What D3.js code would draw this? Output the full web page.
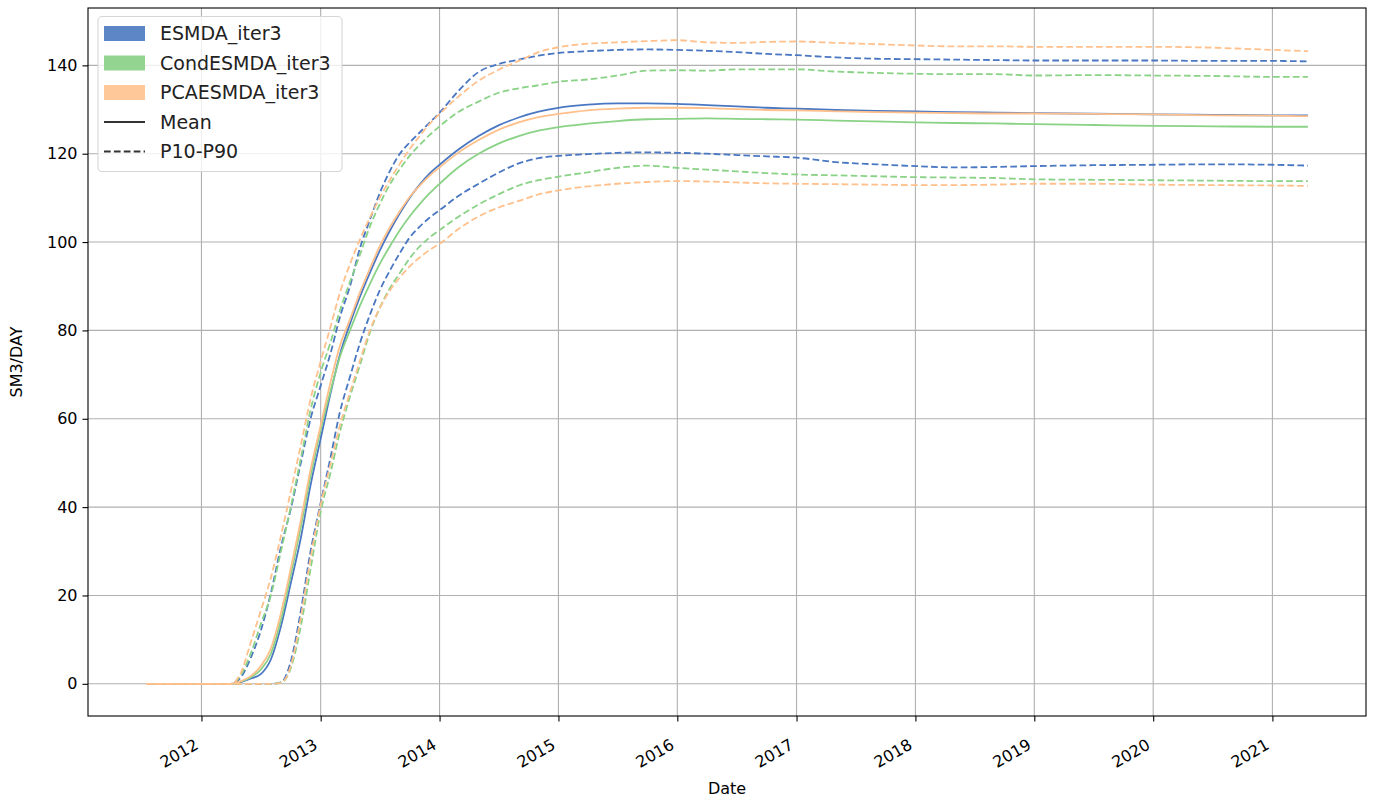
<!DOCTYPE html>
<html>
<head>
<meta charset="utf-8">
<script src="https://cdn.jsdelivr.net/npm/d3@7"></script>
<style>
  html, body { margin: 0; padding: 0; background: #ffffff; }
  svg { display: block; font-family: "DejaVu Sans", sans-serif; }
</style>
</head>
<body>
<svg id="chart" width="1374" height="803"></svg>
<script>
// Report dates (shared by every series)
const dates = [
  "2011-07-15", "2012-01-01",
  "2012-04-01", "2012-05-01", "2012-06-01", "2012-07-01", "2012-08-01", "2012-09-01", "2012-10-01", "2012-11-01", "2012-12-01",
  "2013-01-01", "2013-02-01", "2013-03-01", "2013-04-01", "2013-05-01", "2013-06-01", "2013-07-01", "2013-08-01", "2013-09-01", "2013-10-01", "2013-11-01", "2013-12-01",
  "2014-01-01", "2014-03-01", "2014-05-01", "2014-07-01", "2014-09-01", "2014-11-01",
  "2015-01-01", "2015-04-01", "2015-07-01", "2015-10-01",
  "2016-01-01", "2016-04-01", "2016-07-01", "2016-10-01",
  "2017-01-01", "2017-05-01", "2017-09-01",
  "2018-01-01", "2018-05-01", "2018-09-01",
  "2019-01-01", "2019-07-01",
  "2020-01-01", "2020-07-01",
  "2021-01-01", "2021-04-20"
];

// ESMDA_iter3
const esmdaMean = [0, 0, 0, 0.4, 1.2, 2.2, 5.5, 13, 22.7, 33, 45,
  55.5, 66, 74.5, 81.5, 87.5, 93, 98, 102.5, 106.5, 110, 113, 115.5,
  117.5, 121.0, 124.0, 126.4, 128.2, 129.5, 130.4, 131.1, 131.4, 131.4,
  131.3, 131, 130.7, 130.4, 130.2, 129.9, 129.7, 129.6, 129.4, 129.3,
  129.2, 129.05, 128.9, 128.8, 128.7, 128.7];
const esmdaP10 = [0, 0, 0, 0, 0, 0, 0, 0.3, 5, 16.5, 30,
  41, 51.5, 61.5, 69.5, 77, 83.5, 89, 93.5, 97.5, 101, 103.5, 105.5,
  107.2, 110.5, 113.2, 115.7, 117.8, 119.0, 119.5, 119.9, 120.2, 120.3,
  120.2, 120, 119.7, 119.4, 119.1, 118.1, 117.6, 117.2, 116.9, 117.0,
  117.2, 117.4, 117.5, 117.6, 117.5, 117.3];
const esmdaP90 = [0, 0, 0, 1.5, 6, 12, 20.5, 31, 39.5, 50, 60,
  67.5, 75, 83, 90, 98.5, 105, 111, 116, 120, 122.5, 124.8, 127,
  129.3, 134.3, 138.5, 140.3, 141.3, 142.2, 142.8, 143.2, 143.5, 143.6,
  143.5, 143.3, 143, 142.6, 142.3, 141.8, 141.5, 141.4, 141.3, 141.2,
  141.1, 141.1, 141.1, 141.0, 141.0, 140.9];

// CondESMDA_iter3
const condMean = [0, 0, 0, 0.5, 1.5, 3.2, 6.8, 14.5, 24.5, 35.5, 47,
  57.5, 66.5, 74, 80, 85.5, 90.5, 95, 99, 102.7, 105.8, 108.6, 111,
  113.2, 117, 120, 122.3, 124, 125.2, 126.0, 126.8, 127.4, 127.8,
  127.9, 128.0, 127.9, 127.8, 127.7, 127.5, 127.3, 127.1, 126.95, 126.85,
  126.7, 126.5, 126.3, 126.2, 126.1, 126.1];
const condP10 = [0, 0, 0, 0, 0, 0, 0, 0.2, 3.5, 13, 26,
  39, 48, 57, 65, 72, 79.5, 85, 89.5, 93, 96.3, 99, 101,
  102.7, 105.8, 108.5, 110.8, 112.8, 114, 114.8, 115.8, 116.8, 117.3,
  116.8, 116.4, 116, 115.6, 115.3, 115.1, 114.9, 114.7, 114.6, 114.5,
  114.2, 114.1, 114, 113.9, 113.8, 113.8];
const condP90 = [0, 0, 0, 2, 7, 13.5, 20, 30, 40, 51, 62,
  70.5, 77.5, 84.5, 91, 97, 103.5, 108.5, 113, 116.5, 119.5, 122, 124.2,
  126.2, 129.5, 131.8, 133.8, 134.8, 135.5, 136.3, 136.8, 137.7, 138.8,
  138.9, 138.8, 139.1, 139.1, 139.1, 138.6, 138.3, 138.1, 138.0, 138.0,
  137.7, 137.8, 137.7, 137.6, 137.4, 137.4];

// PCAESMDA_iter3
const pcaMean = [0, 0, 0, 0.6, 1.8, 4, 8, 16, 26, 37, 48.5,
  58.5, 68.5, 76.5, 82.5, 88.5, 94, 99, 103.3, 107, 110.2, 112.8, 115,
  116.9, 120.3, 123.1, 125.4, 127.1, 128.3, 129.0, 129.8, 130.2, 130.4,
  130.4, 130.3, 130.1, 129.9, 129.8, 129.6, 129.4, 129.3, 129.2, 129.1,
  129.1, 129.0, 128.9, 128.7, 128.6, 128.5];
const pcaP10 = [0, 0, 0, 0, 0, 0, 0, 0.2, 4, 15, 28.5,
  40.5, 50, 58.5, 66, 73, 80, 85, 89, 92, 94.5, 96.5, 98.2,
  99.6, 103, 105.8, 107.8, 109.3, 110.8, 111.7, 112.6, 113.2, 113.6,
  113.8, 113.7, 113.5, 113.3, 113.2, 113.1, 113, 112.9, 112.9, 113.0,
  113.2, 113.2, 113.0, 112.9, 112.8, 112.7];
const pcaP90 = [0, 0, 0, 2.5, 9.5, 16.5, 24, 33.5, 43.5, 54, 64.5,
  73, 81, 88.5, 95, 100.5, 105.5, 110, 114, 117.7, 121, 124, 126.7,
  129, 133, 136.5, 139, 141, 143, 144.1, 144.9, 145.2, 145.5,
  145.7, 145.2, 145.1, 145.3, 145.4, 145.1, 144.8, 144.5, 144.3, 144.3,
  144.2, 144.2, 144.2, 144.0, 143.5, 143.2];

const yTicks = [0, 20, 40, 60, 80, 100, 120, 140];
const xTickYears = [2012, 2013, 2014, 2015, 2016, 2017, 2018, 2019, 2020, 2021];

const ensembles = [
  { name: "ESMDA_iter3", line: "#4a77c2", patch: "#5c86c6", mean: esmdaMean, p10: esmdaP10, p90: esmdaP90 },
  { name: "CondESMDA_iter3", line: "#8ad286", patch: "#93d590", mean: condMean, p10: condP10, p90: condP90 },
  { name: "PCAESMDA_iter3", line: "#ffc08c", patch: "#fec898", mean: pcaMean, p10: pcaP10, p90: pcaP90 }
];

const plot = { left: 88, right: 1366, top: 8, bottom: 716 };
const fontTick = 16, fontLabel = 16, fontLegend = 19;

const parse = d3.utcParse("%Y-%m-%d");
const t = dates.map(parse);

// 5% padding on both axes
const tExt = d3.extent(t);
const tPad = (tExt[1] - tExt[0]) * 0.05;
const x = d3.scaleUtc()
  .domain([new Date(+tExt[0] - tPad), new Date(+tExt[1] + tPad)])
  .range([plot.left, plot.right]);

const allVals = ensembles.flatMap(e => [...e.mean, ...e.p10, ...e.p90]);
const vMin = d3.min(allVals), vMax = d3.max(allVals);
const vPad = (vMax - vMin) * 0.05;
const y = d3.scaleLinear().domain([vMin - vPad, vMax + vPad]).range([plot.bottom, plot.top]);

const svg = d3.select("#chart");
const xTicks = xTickYears.map(yr => new Date(Date.UTC(yr, 0, 1)));

// grid
const grid = svg.append("g").attr("stroke", "#b0b0b0").attr("stroke-width", 1.1);
grid.selectAll("line.gx").data(xTicks).join("line")
  .attr("x1", d => x(d)).attr("x2", d => x(d))
  .attr("y1", plot.top).attr("y2", plot.bottom);
grid.selectAll("line.gy").data(yTicks).join("line")
  .attr("x1", plot.left).attr("x2", plot.right)
  .attr("y1", d => y(d)).attr("y2", d => y(d));

// clip to the axes box
svg.append("clipPath").attr("id", "plotclip").append("rect")
  .attr("x", plot.left).attr("y", plot.top)
  .attr("width", plot.right - plot.left).attr("height", plot.bottom - plot.top);

const lineGen = vals => d3.line()
  .x((d, i) => x(t[i]))
  .y(d => y(d))
  .curve(d3.curveMonotoneX)(vals);

const lines = svg.append("g").attr("clip-path", "url(#plotclip)").attr("fill", "none");
ensembles.forEach(e => {
  lines.append("path").attr("d", lineGen(e.mean))
    .attr("stroke", e.line).attr("stroke-width", 1.8);
  [e.p10, e.p90].forEach(s => {
    lines.append("path").attr("d", lineGen(s))
      .attr("stroke", e.line).attr("stroke-width", 1.8)
      .attr("stroke-dasharray", "6.7,3.2");
  });
});

// axes
const xAxis = svg.append("g").attr("transform", `translate(0,${plot.bottom})`)
  .call(d3.axisBottom(x).tickValues(xTicks).tickSizeOuter(0).tickSize(5.5).tickPadding(5)
    .tickFormat(d3.utcFormat("%Y")));
xAxis.select(".domain").remove();
xAxis.selectAll(".tick line").attr("stroke", "#000").attr("stroke-width", 1.1);
xAxis.selectAll(".tick text")
  .attr("font-size", fontTick).attr("font-family", "DejaVu Sans").attr("fill", "#000")
  .attr("text-anchor", "end").attr("dy", "0.75em").attr("y", 10).attr("x", 0)
  .attr("transform", "rotate(-30)");

const yAxis = svg.append("g").attr("transform", `translate(${plot.left},0)`)
  .call(d3.axisLeft(y).tickValues(yTicks).tickSizeOuter(0).tickSize(5.5).tickPadding(5));
yAxis.select(".domain").remove();
yAxis.selectAll(".tick line").attr("stroke", "#000").attr("stroke-width", 1.1);
yAxis.selectAll(".tick text")
  .attr("font-size", fontTick).attr("font-family", "DejaVu Sans").attr("fill", "#000");

// align rotated tick labels: right edge of rotated box at the tick, top just below it
xAxis.selectAll(".tick").each(function (d) {
  const txt = d3.select(this).select("text");
  const r = txt.node().getBoundingClientRect();
  const dx = x(d) - r.right;
  const dy = (plot.bottom + 19) - r.top;
  txt.attr("transform", `translate(${dx},${dy}) rotate(-30)`);
});

// spines
svg.append("rect")
  .attr("x", plot.left).attr("y", plot.top)
  .attr("width", plot.right - plot.left).attr("height", plot.bottom - plot.top)
  .attr("fill", "none").attr("stroke", "#000").attr("stroke-width", 1.1);

// axis labels
svg.append("text")
  .attr("x", (plot.left + plot.right) / 2).attr("y", 794)
  .attr("text-anchor", "middle").attr("font-size", fontLabel).attr("fill", "#000")
  .text("Date");
svg.append("text")
  .attr("transform", `translate(22,${(plot.top + plot.bottom) / 2}) rotate(-90)`)
  .attr("text-anchor", "middle").attr("font-size", fontLabel).attr("fill", "#000")
  .text("SM3/DAY");

// legend
const lg = svg.append("g");
lg.append("rect")
  .attr("x", 98).attr("y", 16.5).attr("width", 244).attr("height", 155).attr("rx", 4)
  .attr("fill", "#ffffff").attr("fill-opacity", 0.8)
  .attr("stroke", "#d6d6d6").attr("stroke-width", 1.1);
const rowY = i => 33.5 + i * 29.5;
ensembles.forEach((e, i) => {
  lg.append("rect").attr("x", 104).attr("y", rowY(i) - 7.5).attr("width", 41).attr("height", 15)
    .attr("fill", e.patch);
  lg.append("text").attr("x", 160).attr("y", rowY(i)).attr("dy", "0.36em")
    .attr("font-size", fontLegend).attr("fill", "#222").text(e.name);
});
[["Mean", null], ["P10-P90", "6.7,3.2"]].forEach(([label, dash], j) => {
  const yy = rowY(3 + j);
  const l = lg.append("line").attr("x1", 104).attr("x2", 145).attr("y1", yy).attr("y2", yy)
    .attr("stroke", "#333").attr("stroke-width", 1.8);
  if (dash) l.attr("stroke-dasharray", dash);
  lg.append("text").attr("x", 160).attr("y", yy).attr("dy", "0.36em")
    .attr("font-size", fontLegend).attr("fill", "#222").text(label);
});
</script>
</body>
</html>
